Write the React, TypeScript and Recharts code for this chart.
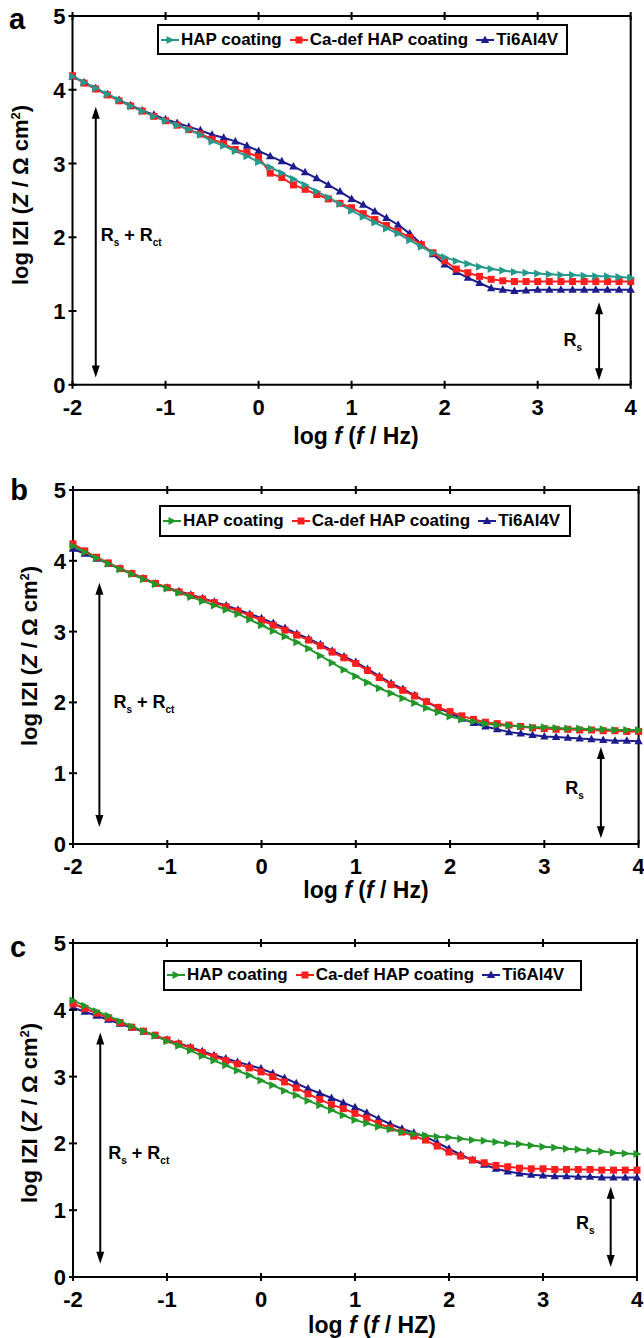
import React from 'react';
import { LineChart, Line, XAxis, YAxis, Legend, ReferenceLine } from 'recharts';

// log f sweep, 8 points per decade
const logF = [
  -2, -1.875, -1.75, -1.625, -1.5, -1.375, -1.25, -1.125,
  -1, -0.875, -0.75, -0.625, -0.5, -0.375, -0.25, -0.125,
  0, 0.125, 0.25, 0.375, 0.5, 0.625, 0.75, 0.875,
  1, 1.125, 1.25, 1.375, 1.5, 1.625, 1.75, 1.875,
  2, 2.125, 2.25, 2.375, 2.5, 2.625, 2.75, 2.875,
  3, 3.125, 3.25, 3.375, 3.5, 3.625, 3.75, 3.875,
  4,
];

// panel a
const hapA = [
  4.18, 4.10, 4.02, 3.94, 3.86, 3.78, 3.71, 3.64,
  3.58, 3.52, 3.46, 3.39, 3.30, 3.24, 3.17, 3.10,
  3.02, 2.95, 2.87, 2.79, 2.71, 2.62, 2.54, 2.45,
  2.36, 2.28, 2.20, 2.12, 2.05, 1.96, 1.87, 1.79,
  1.73, 1.68, 1.64, 1.60, 1.57, 1.55, 1.53, 1.52,
  1.51, 1.50, 1.49, 1.49, 1.48, 1.47, 1.47, 1.46,
  1.45,
];
const cadA = [
  4.19, 4.09, 4.01, 3.93, 3.85, 3.78, 3.71, 3.64,
  3.58, 3.52, 3.46, 3.40, 3.33, 3.27, 3.19, 3.15,
  3.09, 2.87, 2.81, 2.71, 2.65, 2.58, 2.52, 2.46,
  2.40, 2.32, 2.24, 2.16, 2.08, 2.00, 1.90, 1.79,
  1.68, 1.57, 1.52, 1.47, 1.43, 1.41, 1.40, 1.40,
  1.40, 1.40, 1.40, 1.40, 1.40, 1.40, 1.40, 1.40,
  1.40,
];
const tiA = [
  4.18, 4.10, 4.02, 3.94, 3.86, 3.79, 3.72, 3.66,
  3.60, 3.55, 3.50, 3.45, 3.39, 3.35, 3.30, 3.24,
  3.17, 3.10, 3.03, 2.96, 2.88, 2.80, 2.71, 2.62,
  2.52, 2.44, 2.35, 2.26, 2.17, 2.05, 1.91, 1.77,
  1.63, 1.53, 1.45, 1.38, 1.31, 1.29, 1.27, 1.28,
  1.29, 1.29, 1.29, 1.29, 1.29, 1.29, 1.29, 1.29,
  1.29,
];

// panel b
const hapB = [
  4.21, 4.12, 4.04, 3.96, 3.88, 3.81, 3.74, 3.67,
  3.61, 3.55, 3.49, 3.43, 3.37, 3.31, 3.25, 3.17,
  3.09, 3.01, 2.93, 2.85, 2.76, 2.66, 2.56, 2.46,
  2.37, 2.28, 2.20, 2.13, 2.06, 1.99, 1.92, 1.86,
  1.80, 1.76, 1.73, 1.70, 1.68, 1.67, 1.66, 1.65,
  1.65, 1.64, 1.63, 1.63, 1.62, 1.62, 1.61, 1.61,
  1.61,
];
const cadB = [
  4.24, 4.14, 4.05, 3.97, 3.89, 3.82, 3.75, 3.68,
  3.62, 3.56, 3.51, 3.46, 3.41, 3.35, 3.29, 3.23,
  3.16, 3.09, 3.02, 2.95, 2.88, 2.80, 2.71, 2.63,
  2.55, 2.45, 2.35, 2.25, 2.17, 2.09, 2.01, 1.93,
  1.87, 1.81, 1.76, 1.72, 1.70, 1.68, 1.66, 1.64,
  1.63, 1.62, 1.62, 1.61, 1.61, 1.60, 1.60, 1.59,
  1.59,
];
const tiB = [
  4.17, 4.10, 4.03, 3.96, 3.89, 3.82, 3.75, 3.68,
  3.62, 3.57, 3.52, 3.47, 3.42, 3.37, 3.31, 3.25,
  3.19, 3.12, 3.05, 2.97, 2.90, 2.82, 2.73, 2.65,
  2.57, 2.47, 2.37, 2.27, 2.19, 2.10, 2.01, 1.92,
  1.85, 1.77, 1.71, 1.66, 1.62, 1.58, 1.56, 1.54,
  1.52, 1.51, 1.50, 1.49, 1.48, 1.47, 1.46, 1.46,
  1.45,
];

// panel c
const hapC = [
  4.14, 4.06, 3.98, 3.91, 3.83, 3.75, 3.68, 3.61,
  3.53, 3.46, 3.39, 3.31, 3.24, 3.17, 3.09, 3.02,
  2.94, 2.87, 2.79, 2.72, 2.64, 2.57, 2.50, 2.42,
  2.35, 2.30, 2.25, 2.21, 2.17, 2.14, 2.12, 2.10,
  2.09, 2.07, 2.05, 2.04, 2.02, 2.00, 1.99, 1.97,
  1.95, 1.94, 1.92, 1.91, 1.89, 1.88, 1.86, 1.85,
  1.84,
];
const cadC = [
  4.09, 4.02, 3.95, 3.88, 3.81, 3.74, 3.68, 3.62,
  3.55, 3.49, 3.43, 3.36, 3.30, 3.24, 3.19, 3.13,
  3.07, 3.00, 2.92, 2.83, 2.74, 2.66, 2.58, 2.52,
  2.45, 2.38, 2.30, 2.23, 2.17, 2.11, 2.05, 1.96,
  1.87, 1.81, 1.75, 1.71, 1.67, 1.65, 1.63, 1.62,
  1.62, 1.61, 1.61, 1.61, 1.61, 1.60, 1.60, 1.60,
  1.60,
];
const tiC = [
  4.03, 3.97, 3.91, 3.85, 3.79, 3.73, 3.67, 3.61,
  3.55, 3.50, 3.44, 3.38, 3.32, 3.27, 3.22, 3.17,
  3.12, 3.05, 2.98, 2.90, 2.82, 2.75, 2.68, 2.61,
  2.54, 2.46, 2.37, 2.29, 2.22, 2.16, 2.10, 2.01,
  1.92, 1.83, 1.75, 1.68, 1.62, 1.58, 1.55, 1.53,
  1.52, 1.51, 1.51, 1.50, 1.50, 1.49, 1.49, 1.49,
  1.49,
];

const xTicks = [-2, -1, 0, 1, 2, 3, 4];
const yTicks = [0, 1, 2, 3, 4, 5];
const seriesNames = ['HAP coating', 'Ca-def HAP coating', 'Ti6Al4V'];

const FONT = 'Arial, "Liberation Sans", Helvetica, sans-serif';
const RED = '#ff1e1e';
const BLUE = '#1c1c8e';
const TEAL = '#26998d';
const GREEN = '#22972a';

type Marker = 'right' | 'square' | 'up';

const drawMarker = (kind: Marker, cx: number, cy: number, color: string, key?: string) => {
  if (kind === 'square') {
    return <rect key={key} x={cx - 3.5} y={cy - 3.5} width={7} height={7} fill={color} />;
  }
  if (kind === 'right') {
    return <polygon key={key} points={`${cx - 3.5},${cy - 4} ${cx + 4.5},${cy} ${cx - 3.5},${cy + 4}`} fill={color} />;
  }
  return <polygon key={key} points={`${cx},${cy - 4.5} ${cx + 4.2},${cy + 3} ${cx - 4.2},${cy + 3}`} fill={color} />;
};

const dotFor = (kind: Marker, color: string, name: string) => (props: any) =>
  drawMarker(kind, props.cx, props.cy, color, `${name}-${props.index}`);

// axis ticks that cross the frame line
const BottomTick = ({ x, y, payload }: any) => (
  <g>
    <line x1={x} x2={x} y1={y - 4} y2={y + 4} stroke="#000" strokeWidth={2} />
    <text x={x} y={y + 30} textAnchor="middle" fontSize={22} fontWeight="bold" fontFamily={FONT} fill="#000">
      {payload.value}
    </text>
  </g>
);
const LeftTick = ({ x, y, payload }: any) => (
  <g>
    <line x1={x - 4} x2={x + 4} y1={y} y2={y} stroke="#000" strokeWidth={2} />
    <text x={x - 7} y={y + 8} textAnchor="end" fontSize={22} fontWeight="bold" fontFamily={FONT} fill="#000">
      {payload.value}
    </text>
  </g>
);
const TopTick = ({ x, y }: any) => <line x1={x} x2={x} y1={y - 4} y2={y + 4} stroke="#000" strokeWidth={2} />;
const RightTick = ({ x, y }: any) => <line x1={x - 4} x2={x + 4} y1={y} y2={y} stroke="#000" strokeWidth={2} />;

const makeArrow = (kind: 'rct' | 'rs', dx: number, frac: number) => (props: any) => {
  const x = props.x1;
  const top = Math.min(props.y1, props.y2);
  const bot = Math.max(props.y1, props.y2);
  const ty = top + (bot - top) * frac + 6;
  return (
    <g>
      <line x1={x} x2={x} y1={top + 8} y2={bot - 8} stroke="#000" strokeWidth={2} />
      <polygon points={`${x},${top} ${x - 4},${top + 12} ${x + 4},${top + 12}`} fill="#000" />
      <polygon points={`${x},${bot} ${x - 4},${bot - 12} ${x + 4},${bot - 12}`} fill="#000" />
      {kind === 'rct' ? (
        <text x={x + dx} y={ty} fontSize={18} fontWeight="bold" fontFamily={FONT} fill="#000">
          R<tspan dy={5} fontSize={10}>s</tspan>
          <tspan dy={-5}> + R</tspan>
          <tspan dy={5} fontSize={10}>ct</tspan>
        </text>
      ) : (
        <text x={x - dx} y={ty} textAnchor="end" fontSize={18} fontWeight="bold" fontFamily={FONT} fill="#000">
          R<tspan dy={5} fontSize={10}>s</tspan>
        </text>
      )}
    </g>
  );
};

type Panel = {
  letter: string;
  hap: number[];
  cad: number[];
  ti: number[];
  hapColor: string;
  plot: { top: number; bottom: number; left: number; right: number };
  legend: { left: number; top: number; width: number; height: number };
  rct: { x: number; top: number; bottom: number; dx: number; frac: number };
  rs: { x: number; top: number; bottom: number; dx: number; frac: number };
  letterPos: { x: number; y: number };
  yTitle: { x: number; y: number };
  xTitle: { x: number; y: number; unit: string };
};

const panels: Panel[] = [
  {
    letter: 'a', hap: hapA, cad: cadA, ti: tiA, hapColor: TEAL,
    plot: { top: 15.7, bottom: 384.5, left: 72.5, right: 630.7 },
    legend: { left: 157, top: 24, width: 411, height: 31 },
    rct: { x: -1.75, top: 3.77, bottom: 0.1, dx: 5, frac: 0.475 },
    rs: { x: 3.66, top: 1.12, bottom: 0.06, dx: 17, frac: 0.49 },
    letterPos: { x: 17, y: 19 }, yTitle: { x: 21, y: 195 }, xTitle: { x: 356, y: 436, unit: 'Hz' },
  },
  {
    letter: 'b', hap: hapB, cad: cadB, ti: tiB, hapColor: GREEN,
    plot: { top: 490, bottom: 844, left: 73, right: 638.6 },
    legend: { left: 159, top: 505, width: 412, height: 32 },
    rct: { x: -1.72, top: 3.69, bottom: 0.24, dx: 14, frac: 0.49 },
    rs: { x: 3.6, top: 1.37, bottom: 0.08, dx: 17, frac: 0.45 },
    letterPos: { x: 19, y: 490 }, yTitle: { x: 30, y: 656 }, xTitle: { x: 366, y: 890, unit: 'Hz' },
  },
  {
    letter: 'c', hap: hapC, cad: cadC, ti: tiC, hapColor: GREEN,
    plot: { top: 942.7, bottom: 1276.7, left: 73, right: 637 },
    legend: { left: 163, top: 960, width: 419, height: 31 },
    rct: { x: -1.71, top: 3.66, bottom: 0.2, dx: 8, frac: 0.52 },
    rs: { x: 3.72, top: 1.35, bottom: 0.15, dx: 16, frac: 0.45 },
    letterPos: { x: 18, y: 947 }, yTitle: { x: 30, y: 1113 }, xTitle: { x: 372, y: 1325, unit: 'HZ' },
  },
];

const LegendIcon = ({ kind, color }: { kind: Marker; color: string }) => (
  <svg width={18} height={10} style={{ display: 'block', marginRight: 2 }}>
    <line x1={0} x2={18} y1={5} y2={5} stroke={color} strokeWidth={2} />
    {drawMarker(kind, 9, 5, color)}
  </svg>
);

const LegendBox = ({ hapColor, width, height }: { hapColor: string; width: number; height: number }) => {
  const items: { kind: Marker; color: string }[] = [
    { kind: 'right', color: hapColor },
    { kind: 'square', color: RED },
    { kind: 'up', color: BLUE },
  ];
  return (
    <div
      style={{
        boxSizing: 'border-box', width, height, border: '2px solid #000', background: '#fff',
        display: 'flex', alignItems: 'center', paddingLeft: 2, whiteSpace: 'nowrap',
        fontFamily: FONT, fontWeight: 'bold', fontSize: 17, color: '#000',
      }}
    >
      {items.map((it, i) => (
        <div key={seriesNames[i]} style={{ display: 'flex', alignItems: 'center', marginRight: 8 }}>
          <LegendIcon kind={it.kind} color={it.color} />
          <span>{seriesNames[i]}</span>
        </div>
      ))}
    </div>
  );
};

const PanelChart = ({ p }: { p: Panel }) => {
  const divTop = p.plot.top - 16;
  const height = p.plot.bottom - divTop + 60;
  const rows = logF.map((x, i) => ({ x, hap: p.hap[i], cad: p.cad[i], ti: p.ti[i] }));
  const axisLine = { stroke: '#000', strokeWidth: 2 };
  return (
    <div style={{ position: 'absolute', left: 0, top: divTop, width: 644, height }}>
      <LineChart
        width={644}
        height={height}
        data={rows}
        margin={{ top: 15, left: p.plot.left - 60, right: 644 - p.plot.right - 1, bottom: 30 }}
      >
        <XAxis
          dataKey="x" type="number" domain={[-2, 4]} ticks={xTicks} interval={0}
          axisLine={axisLine} tickLine={false} tickSize={0} tickMargin={0} height={30}
          tick={(t: any) => <BottomTick {...t} />}
        />
        <XAxis
          xAxisId="top" orientation="top" dataKey="x" type="number" domain={[-2, 4]} ticks={xTicks}
          interval={0} axisLine={axisLine} tickLine={false} tickSize={0} tickMargin={0} height={1}
          tick={(t: any) => <TopTick {...t} />}
        />
        <YAxis
          type="number" domain={[0, 5]} ticks={yTicks} interval={0} width={60}
          axisLine={axisLine} tickLine={false} tickSize={0} tickMargin={0}
          tick={(t: any) => <LeftTick {...t} />}
        />
        <YAxis
          yAxisId="right" orientation="right" type="number" domain={[0, 5]} ticks={yTicks} interval={0}
          width={1} axisLine={axisLine} tickLine={false} tickSize={0} tickMargin={0}
          tick={(t: any) => <RightTick {...t} />}
        />
        <ReferenceLine
          segment={[{ x: p.rct.x, y: p.rct.top }, { x: p.rct.x, y: p.rct.bottom }]}
          shape={makeArrow('rct', p.rct.dx, p.rct.frac)}
        />
        <ReferenceLine
          segment={[{ x: p.rs.x, y: p.rs.top }, { x: p.rs.x, y: p.rs.bottom }]}
          shape={makeArrow('rs', p.rs.dx, p.rs.frac)}
        />
        <Line
          type="linear" dataKey="ti" name={seriesNames[2]} stroke={BLUE} strokeWidth={2}
          dot={dotFor('up', BLUE, 'ti')} activeDot={false} isAnimationActive={false}
        />
        <Line
          type="linear" dataKey="cad" name={seriesNames[1]} stroke={RED} strokeWidth={2}
          dot={dotFor('square', RED, 'cad')} activeDot={false} isAnimationActive={false}
        />
        <Line
          type="linear" dataKey="hap" name={seriesNames[0]} stroke={p.hapColor} strokeWidth={2}
          dot={dotFor('right', p.hapColor, 'hap')} activeDot={false} isAnimationActive={false}
        />
        <Legend
          layout="horizontal" verticalAlign="middle" align="center"
          wrapperStyle={{ left: p.legend.left, top: p.legend.top - divTop, width: p.legend.width, height: p.legend.height }}
          content={() => <LegendBox hapColor={p.hapColor} width={p.legend.width} height={p.legend.height} />}
        />
      </LineChart>
    </div>
  );
};

const textBase: React.CSSProperties = {
  position: 'absolute', fontFamily: FONT, fontWeight: 'bold', color: '#000',
  whiteSpace: 'nowrap', lineHeight: 1,
};

export default function App() {
  return (
    <div style={{ position: 'absolute', left: 0, top: 0, width: 644, height: 1338, overflow: 'hidden', background: '#fff' }}>
      {panels.map((p) => (
        <PanelChart key={p.letter} p={p} />
      ))}
      {panels.map((p) => (
        <React.Fragment key={`t-${p.letter}`}>
          <div style={{ ...textBase, left: p.letterPos.x, top: p.letterPos.y, fontSize: 29, transform: 'translate(-50%, -50%)' }}>
            {p.letter}
          </div>
          <div
            style={{
              ...textBase, left: p.yTitle.x, top: p.yTitle.y, fontSize: 22,
              transform: 'translate(-50%, -50%) rotate(-90deg)',
            }}
          >
            log IZI (<i>Z</i> / Ω cm<sup style={{ fontSize: 13, lineHeight: 0 }}>2</sup>)
          </div>
          <div style={{ ...textBase, left: p.xTitle.x, top: p.xTitle.y, fontSize: 23, transform: 'translate(-50%, -50%)' }}>
            log <i>f</i> (<i>f</i> / {p.xTitle.unit})
          </div>
        </React.Fragment>
      ))}
    </div>
  );
}
